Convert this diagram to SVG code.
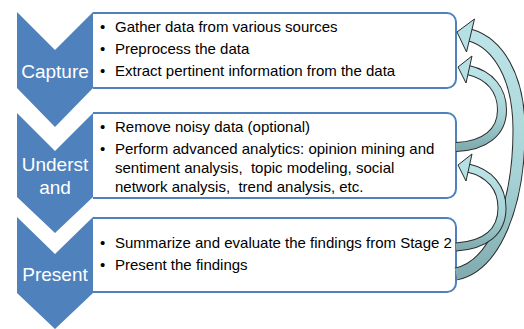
<svg xmlns="http://www.w3.org/2000/svg" width="524" height="329" viewBox="0 0 524 329">
<defs>
<style>
.chev{fill:#4F81BD}
.box{fill:#fff;stroke:#4F81BD;stroke-width:2}
.lbl{font-family:"Liberation Sans",Arial,sans-serif;font-size:19px;fill:#fff;text-anchor:middle}
.txt{font-family:"Liberation Sans",Arial,sans-serif;font-size:15px;fill:#000;white-space:pre}
.out{fill:none;stroke:#2b2b2b}
.in{fill:none;stroke:url(#ag)}
.head{fill:#B5E0E4;stroke:#2b2b2b;stroke-width:1;stroke-linejoin:miter}
</style>
<linearGradient id="ag" x1="0" y1="0" x2="0" y2="1">
<stop offset="0" stop-color="#BCE4E8"/>
<stop offset="0.6" stop-color="#A6D2D6"/>
<stop offset="1" stop-color="#82ADB0"/>
</linearGradient>
</defs>
<g id="capture">
<path class="box" d="M93,13 H447 A9,9 0 0 1 456,22 V79 A9,9 0 0 1 447,88 H93"/>
<polygon class="chev" points="17,12 55,50 93,12 93,88 55,127 17,88"/>
<text class="lbl" x="55" y="78">Capture</text>
<text class="txt"><tspan x="100" y="32">•</tspan><tspan x="115" y="32">Gather data from various sources</tspan></text>
<text class="txt"><tspan x="100" y="54">•</tspan><tspan x="115" y="54">Preprocess the data</tspan></text>
<text class="txt"><tspan x="100" y="76">•</tspan><tspan x="115" y="76">Extract pertinent information from the data</tspan></text>
</g>
<g id="understand">
<path class="box" d="M93,113 H447 A9,9 0 0 1 456,122 V189 A9,9 0 0 1 447,198 H93"/>
<polygon class="chev" points="17,113 55,151 93,113 93,197 55,233 17,197"/>
<text class="lbl" x="55" y="171">Underst</text>
<text class="lbl" x="55" y="194">and</text>
<text class="txt"><tspan x="100" y="132">•</tspan><tspan x="115" y="132">Remove noisy data (optional)</tspan></text>
<text class="txt"><tspan x="100" y="154">•</tspan><tspan x="115" y="154">Perform advanced analytics: opinion mining and</tspan></text>
<text class="txt" x="115" y="173">sentiment analysis,  topic modeling, social</text>
<text class="txt" x="115" y="192">network analysis,  trend analysis, etc.</text>
</g>
<g id="present">
<path class="box" d="M93,218 H447 A9,9 0 0 1 456,227 V283 A9,9 0 0 1 447,292 H93"/>
<polygon class="chev" points="17,217 55,254 93,217 93,293 55,329 17,293"/>
<text class="lbl" x="55" y="281">Present</text>
<text class="txt"><tspan x="100" y="248">•</tspan><tspan x="115" y="248">Summarize and evaluate the findings from Stage 2</tspan></text>
<text class="txt"><tspan x="100" y="270">•</tspan><tspan x="115" y="270">Present the findings</tspan></text>
</g>
<g id="connectors">
<g id="arrow-present-capture">
<path class="out" stroke-width="13" d="M470,35 C497,43 519,75 519,130 C519,205 495,266 456,274"/>
<path class="in" stroke-width="11" d="M470,35 C497,43 519,75 519,130 C519,205 495,266 456,274"/>
<polygon class="head" points="457,32 474.5,19 466.5,52"/>
</g>
<g id="arrow-understand-capture">
<path class="out" stroke-width="10" d="M468,70 C490,75 502,90 502,110 C502,132 485,146 456,147"/>
<path class="in" stroke-width="8" d="M468,70 C490,75 502,90 502,110 C502,132 485,146 456,147"/>
<polygon class="head" points="458,67 472,56 466,83"/>
</g>
<g id="arrow-present-understand">
<path class="out" stroke-width="9" d="M468,168 C490,173 502,188 502,208 C502,232 485,245 456,247"/>
<path class="in" stroke-width="7" d="M468,168 C490,173 502,188 502,208 C502,232 485,245 456,247"/>
<polygon class="head" points="458,165 472,154 466,181"/>
</g>
</g>
</svg>
